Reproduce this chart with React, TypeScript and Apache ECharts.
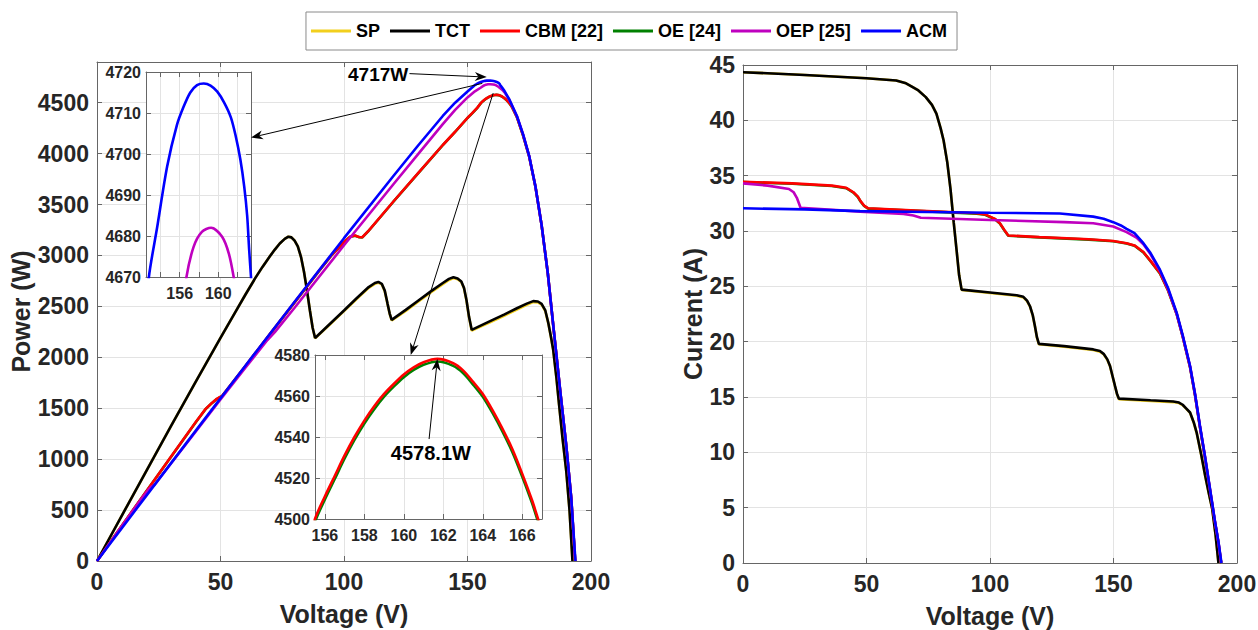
import React, { useEffect, useRef } from 'react';
import * as echarts from 'echarts';

// ---------- names / colours ----------
const seriesNames = ['SP', 'TCT', 'CBM [22]', 'OE [24]', 'OEP [25]', 'ACM'];
const seriesColors = ['#f2cf1d', '#000000', '#ff0000', '#008000', '#bf00bf', '#0000ff'];
const drawOrder = ['SP', 'TCT', 'OE [24]', 'CBM [22]', 'OEP [25]', 'ACM'];

// ---------- P-V data (Voltage V, Power W) ----------
const tctPV = [
  [0, 0], [10, 443], [20, 886], [30, 1326], [40, 1762], [50, 2190], [56, 2444], [60, 2612], [64, 2775], [67, 2888],
  [70, 2992], [72, 3058], [74, 3118], [76, 3163], [77.5, 3185], [78.7, 3178], [80, 3145], [81.3, 3090], [82.6, 2985],
  [83.8, 2840], [85, 2660], [86.2, 2460], [87.3, 2290], [88.3, 2190],
  [95, 2345], [100, 2460], [105, 2578], [110, 2690], [112.5, 2730], [113.9, 2740], [115.3, 2722], [116.5, 2655],
  [117.6, 2530], [118.5, 2430], [119.3, 2368],
  [125, 2466], [130, 2556], [135, 2645], [140, 2730], [142.5, 2770], [144.3, 2787], [146, 2775], [147.5, 2745],
  [148.6, 2680], [149.6, 2560], [150.6, 2400], [151.7, 2270],
  [160, 2365], [165, 2422], [170, 2482], [174, 2527], [176.6, 2552], [178.5, 2548], [180, 2525], [181.5, 2460],
  [182.7, 2340], [183.8, 2200], [184.7, 2073], [186, 1800], [187.1, 1530], [188.5, 1200], [190, 880], [191.3, 500], [192.5, 0],
];
const spPV = [
  [0, 0], [10, 443], [20, 886], [30, 1326], [40, 1762], [50, 2190], [56, 2444], [60, 2612], [64, 2775], [67, 2888],
  [70, 2992], [72, 3058], [74, 3118], [76, 3163], [77.5, 3185], [78.7, 3178], [80, 3145], [81.3, 3090], [82.6, 2985],
  [83.8, 2840], [85, 2660], [86.2, 2460], [87.3, 2290], [88.3, 2188],
  [95, 2340], [100, 2454], [105, 2570], [110, 2682], [112.5, 2722], [113.9, 2733], [115.3, 2716], [116.5, 2650],
  [117.6, 2526], [118.5, 2426], [119.3, 2362],
  [125, 2456], [130, 2545], [135, 2634], [140, 2719], [142.5, 2760], [144.3, 2778], [146, 2768], [147.5, 2740],
  [148.6, 2676], [149.6, 2556], [150.6, 2396], [151.7, 2262],
  [160, 2354], [165, 2410], [170, 2470], [174, 2516], [176.6, 2542], [178.5, 2540], [180, 2518], [181.5, 2455],
  [182.7, 2336], [183.8, 2197], [184.7, 2070], [186, 1798], [187.1, 1528], [188.5, 1198], [190, 878], [191.3, 499], [192.5, 0],
];
const cbmPV = [
  [0, 0], [10, 344], [20, 686], [30, 1026], [40, 1364], [44, 1494], [46.5, 1552], [48.5, 1592], [49.5, 1606], [50.7, 1622],
  [60, 1912], [70, 2228], [80, 2540], [90, 2852], [95, 3005], [100, 3132], [102.5, 3185], [104.5, 3196], [106, 3182],
  [107.4, 3179], [110, 3245], [120, 3530], [130, 3808], [140, 4085], [145, 4215], [150, 4352], [152, 4400], [154, 4452],
  [155.5, 4500], [156, 4511], [156.5, 4521], [157, 4531], [157.5, 4540], [158, 4548], [158.5, 4555], [159, 4561],
  [159.5, 4566], [160, 4570.5], [160.5, 4574], [161, 4576.5], [161.7, 4578.1], [162.5, 4576], [163, 4572.5], [163.5, 4567],
  [164, 4561], [164.5, 4553], [165, 4544], [165.5, 4534], [166, 4522], [166.5, 4509], [166.8, 4500], [167.3, 4485],
  [168, 4460], [170, 4360], [172.5, 4180], [175, 3970], [177.5, 3678], [180, 3298], [182.5, 2828], [185, 2248],
  [187.5, 1678], [190, 1128], [192, 618], [193.6, 0],
];
const oePV = [
  [0, 0], [10, 343], [20, 685], [30, 1024], [40, 1362], [44, 1492], [46.5, 1550], [48.5, 1590], [49.5, 1604], [50.7, 1620],
  [60, 1910], [70, 2226], [80, 2538], [90, 2850], [95, 3003], [100, 3130], [102.5, 3183], [104.5, 3194], [106, 3180],
  [107.4, 3177], [110, 3243], [120, 3528], [130, 3806], [140, 4083], [145, 4213], [150, 4350], [152, 4398], [154, 4450],
  [155.5, 4498.5], [156, 4509.5], [156.5, 4519.5], [157, 4529.5], [157.5, 4538.6], [158, 4546.6], [158.5, 4553.6], [159, 4559.7],
  [159.5, 4564.7], [160, 4569.2], [160.5, 4572.7], [161, 4575.2], [161.7, 4576.8], [162.5, 4574.7], [163, 4571.2], [163.5, 4565.7],
  [164, 4559.6], [164.5, 4551.6], [165, 4542.6], [165.5, 4532.6], [166, 4520.6], [166.5, 4507.6], [166.8, 4498.6], [167.3, 4483.5],
  [168, 4458], [170, 4358], [172.5, 4178], [175, 3968], [177.5, 3676], [180, 3296], [182.5, 2826], [185, 2246],
  [187.5, 1676], [190, 1126], [192, 616], [193.6, 0],
];
const oepPV = [
  [0, 0], [10, 342], [18.6, 630], [20.5, 690], [21.8, 725], [23.3, 748], [30, 960], [40, 1272], [50, 1587], [60, 1896],
  [69, 2170], [72, 2247], [80, 2487], [100, 3100], [120, 3700], [130, 3995], [140, 4290], [145, 4430], [150, 4552],
  [153, 4612], [155.3, 4647], [156.7, 4670], [157.45, 4677.4], [158.3, 4681], [159.26, 4682], [160.4, 4679.8],
  [161.1, 4675.7], [161.6, 4670], [162.5, 4657], [164, 4628], [165, 4602], [167, 4525], [170, 4368], [172.5, 4190],
  [175, 3972], [177.5, 3678], [180, 3298], [182.5, 2828], [185, 2248], [187.5, 1678], [190, 1128], [192, 618], [193.6, 0],
];
const acmPV = [
  [0, 0], [20, 642], [40, 1280], [60, 1915], [80, 2545], [100, 3170], [120, 3780], [130, 4080], [140, 4370], [145, 4500],
  [150, 4610], [152.8, 4670], [153.65, 4682], [154.7, 4697], [155.7, 4707], [156.4, 4711.5], [157.1, 4715], [157.8, 4716.8],
  [158.5, 4717.2], [159.2, 4716.7], [159.9, 4715.2], [160.6, 4712.6], [161.3, 4709], [161.8, 4704.5], [162.3, 4698.6],
  [162.7, 4692], [163, 4685], [163.2, 4677], [163.4, 4670], [164, 4650], [165, 4615], [167, 4530], [170, 4370],
  [172.5, 4190], [175, 3975], [177.5, 3680], [180, 3300], [182.5, 2830], [185, 2250], [187.5, 1680], [190, 1130],
  [192, 620], [193.7, 0],
];

// ---------- I-V data (Voltage V, Current A) ----------
const tctIV = [
  [0, 44.35], [25, 44.1], [50, 43.8], [62, 43.6], [66, 43.35], [68, 43.1], [71, 42.7], [74, 42.1], [76.5, 41.4], [78.3, 40.6],
  [80, 39.3], [81.2, 38.2], [82.7, 36.2], [84, 33.8], [85.3, 30.8], [86.5, 28.2], [87.5, 26], [88.5, 24.7],
  [100, 24.45], [110.8, 24.2], [113.5, 24.05], [115, 23.7], [116.2, 23.2], [117.3, 22.4], [118.2, 21.4], [119, 20.4], [119.8, 19.8],
  [130, 19.6], [141.8, 19.3], [144.5, 19.15], [146, 18.9], [147.5, 18.4], [148.6, 17.8], [149.6, 16.9], [150.6, 16.0],
  [151.4, 15.3], [152.2, 14.85], [165, 14.7], [174.2, 14.6], [176.5, 14.5], [178, 14.3], [179.5, 13.95], [181, 13.6],
  [182.5, 12.7], [183.7, 11.75], [185.5, 9.8], [187.1, 7.9], [188.5, 6.4], [190, 4.85], [191.3, 2.6], [192.5, 0],
];
const spIV = [
  [0, 44.35], [25, 44.1], [50, 43.8], [62, 43.6], [66, 43.35], [68, 43.1], [71, 42.7], [74, 42.1], [76.5, 41.4], [78.3, 40.6],
  [80, 39.3], [81.2, 38.2], [82.7, 36.2], [84, 33.8], [85.3, 30.8], [86.5, 28.2], [87.5, 26], [88.5, 24.68],
  [100, 24.4], [110.8, 24.15], [113.5, 24.0], [115, 23.66], [116.2, 23.16], [117.3, 22.37], [118.2, 21.37], [119, 20.37], [119.8, 19.76],
  [130, 19.55], [141.8, 19.24], [144.5, 19.1], [146, 18.86], [147.5, 18.37], [148.6, 17.77], [149.6, 16.87], [150.6, 15.97],
  [151.4, 15.27], [152.2, 14.8], [165, 14.64], [174.2, 14.54], [176.5, 14.45], [178, 14.26], [179.5, 13.92], [181, 13.57],
  [182.5, 12.67], [183.7, 11.72], [185.5, 9.78], [187.1, 7.88], [188.5, 6.38], [190, 4.83], [191.3, 2.59], [192.5, 0],
];
const cbmIV = [
  [0, 34.45], [20, 34.3], [36, 34.1], [41.8, 33.9], [44.7, 33.5], [46.5, 33.1], [47.6, 32.7], [49, 32.3], [50.7, 32.05],
  [70, 31.85], [94.6, 31.6], [98, 31.5], [100, 31.3], [102, 31.1], [104, 30.7], [105.8, 30.1], [107.4, 29.6],
  [120, 29.45], [140, 29.25], [149.9, 29.1], [155.3, 28.9], [158.5, 28.7], [162.1, 28.1], [165, 27.3], [168.8, 26.2],
  [172, 24.7], [175.6, 22.5], [178, 20.5], [181, 17.7], [183, 15.2], [185, 12.3], [187, 9.6], [189, 6.7], [191, 3.8],
  [192.5, 1.8], [193.6, 0],
];
const oeIV = [
  [0, 34.42], [20, 34.27], [36, 34.07], [41.8, 33.87], [44.7, 33.47], [46.5, 33.07], [47.6, 32.67], [49, 32.27], [50.7, 32.02],
  [70, 31.82], [94.6, 31.57], [98, 31.47], [100, 31.27], [102, 31.07], [104, 30.67], [105.8, 30.07], [107.4, 29.57],
  [120, 29.42], [140, 29.22], [149.9, 29.07], [155.3, 28.87], [158.5, 28.67], [162.1, 28.07], [165, 27.27], [168.8, 26.17],
  [172, 24.67], [175.6, 22.47], [178, 20.47], [181, 17.67], [183, 15.17], [185, 12.27], [187, 9.57], [189, 6.67], [191, 3.77],
  [192.5, 1.78], [193.6, 0],
];
const oepIV = [
  [0, 34.3], [10, 34.1], [18.6, 33.8], [20.5, 33.5], [21.8, 33.0], [23.3, 32.1], [47.4, 31.75], [65, 31.55], [69, 31.4],
  [72, 31.2], [100, 31.0], [130, 30.8], [141.8, 30.7], [149.9, 30.4], [155.3, 29.9], [159.3, 29.4], [162.1, 28.8],
  [165, 27.9], [168.8, 26.4], [172, 24.8], [175.6, 22.5], [178, 20.5], [181, 17.75], [183, 15.25], [185, 12.35],
  [187, 9.65], [189, 6.75], [191, 3.85], [192.5, 1.85], [193.6, 0],
];
const acmIV = [
  [0, 32.05], [25, 31.95], [47.4, 31.8], [75, 31.72], [100, 31.65], [128.3, 31.58], [141.8, 31.3], [146, 31.1],
  [149.9, 30.8], [153, 30.5], [155.3, 30.2], [158.5, 29.8], [162.1, 28.9], [165, 28.0], [168.8, 26.5], [172, 24.9],
  [175.6, 22.6], [178, 20.6], [181, 17.8], [183, 15.3], [185, 12.4], [187, 9.7], [189, 6.8], [191, 3.9], [192.5, 1.9],
  [193.7, 0],
];

const pvData: Record<string, number[][]> = {
  'SP': spPV, 'TCT': tctPV, 'CBM [22]': cbmPV, 'OE [24]': oePV, 'OEP [25]': oepPV, 'ACM': acmPV,
};
const ivData: Record<string, number[][]> = {
  'SP': spIV, 'TCT': tctIV, 'CBM [22]': cbmIV, 'OE [24]': oeIV, 'OEP [25]': oepIV, 'ACM': acmIV,
};

// ---------- axis ticks ----------
const voltTicksInterval = 50;
const powerTicksInterval = 500;
const currentTicksInterval = 5;
const inset1XTicks = [154, 156, 158, 160, 162];
const inset1XLabels = [156, 160];
const inset2XTicks = [156, 158, 160, 162, 164, 166];

// ---------- annotation texts ----------
const peakLabelACM = '4717W';
const peakLabelCBM = '4578.1W';

const FONT = 'Liberation Sans, Arial, Helvetica, sans-serif';
const TXT = '#262626';
const GRIDC = '#e3e3e3';
const BOX = '#666666';

function colorOf(name: string) {
  return seriesColors[seriesNames.indexOf(name)];
}
const plain = (v: number) => String(v);

function makeAxes(g: number, xc: any, yc: any, fs: number, z: number) {
  const lbl = { color: TXT, fontSize: fs, fontWeight: 'bold', fontFamily: FONT, formatter: plain };
  const tick = { show: true, inside: true, length: 5, lineStyle: { color: BOX, width: 1 } };
  const line = { show: true, onZero: false, lineStyle: { color: BOX, width: 1 } };
  const split = { show: true, lineStyle: { color: GRIDC, width: 1 } };
  const nameStyle = { color: TXT, fontSize: 25, fontWeight: 'bold', fontFamily: FONT };
  const xb: any = {
    type: 'value', gridIndex: g, position: 'bottom', min: xc.min, max: xc.max, z,
    axisLine: line, axisTick: { ...tick }, splitLine: split,
    axisLabel: { ...lbl, margin: xc.margin ?? 9, showMaxLabel: xc.showMax ?? true, showMinLabel: true },
  };
  const xt: any = {
    type: 'value', gridIndex: g, position: 'top', min: xc.min, max: xc.max, z,
    axisLine: line, axisTick: { ...tick }, splitLine: { show: false }, axisLabel: { show: false },
  };
  if (xc.interval != null) { xb.interval = xc.interval; xt.interval = xc.interval; }
  if (xc.ticks) {
    xb.axisTick.customValues = xc.ticks; xt.axisTick.customValues = xc.ticks;
    xb.axisLabel.customValues = xc.labels || xc.ticks;
  }
  if (xc.name) {
    xb.name = xc.name; xb.nameLocation = 'middle'; xb.nameGap = xc.nameGap; xb.nameTextStyle = nameStyle;
  }
  const yl: any = {
    type: 'value', gridIndex: g, position: 'left', min: yc.min, max: yc.max, interval: yc.interval, z,
    axisLine: line, axisTick: { ...tick }, splitLine: split,
    axisLabel: { ...lbl, margin: yc.margin ?? 8, showMaxLabel: yc.showMax ?? true },
  };
  const yr: any = {
    type: 'value', gridIndex: g, position: 'right', min: yc.min, max: yc.max, interval: yc.interval, z,
    axisLine: line, axisTick: { ...tick }, splitLine: { show: false }, axisLabel: { show: false },
  };
  if (yc.name) {
    yl.name = yc.name; yl.nameLocation = 'middle'; yl.nameGap = yc.nameGap; yl.nameTextStyle = nameStyle;
  }
  return { x: [xb, xt], y: [yl, yr] };
}

function arrow(p1: number[], p2: number[], head = 12, half = 4.5) {
  const dx = p2[0] - p1[0];
  const dy = p2[1] - p1[1];
  const L = Math.hypot(dx, dy) || 1;
  const ux = dx / L, uy = dy / L;
  const nx = -uy, ny = ux;
  const bx = p2[0] - ux * head, by = p2[1] - uy * head;
  const mx = p2[0] - ux * head * 0.7, my = p2[1] - uy * head * 0.7;
  return [
    { type: 'line', silent: true, z: 50, shape: { x1: p1[0], y1: p1[1], x2: mx, y2: my }, style: { stroke: '#000', lineWidth: 1 } },
    {
      type: 'polygon', silent: true, z: 50,
      shape: { points: [[p2[0], p2[1]], [bx + nx * half, by + ny * half], [mx, my], [bx - nx * half, by - ny * half]] },
      style: { fill: '#000' },
    },
  ];
}

function textEl(text: string, p: number[], align: string, size: number) {
  return {
    type: 'text', silent: true, z: 50, x: p[0], y: p[1],
    style: {
      text, x: 0, y: 0, fill: '#000', font: `bold ${size}px ${FONT}`,
      textAlign: align, align, textVerticalAlign: 'middle', verticalAlign: 'middle',
    },
  };
}

export default function App() {
  const ref = useRef<HTMLDivElement>(null);
  useEffect(() => {
    document.body.style.margin = '0';
    if (!ref.current) return;
    const chart = echarts.init(ref.current, undefined, { renderer: 'svg' });

    const grids = [
      { left: 97, top: 62, width: 494, height: 499 },
      { left: 146, top: 72, width: 105, height: 205, show: true, backgroundColor: '#fff', borderWidth: 0, z: 5 },
      { left: 315, top: 355, width: 227, height: 164, show: true, backgroundColor: '#fff', borderWidth: 0, z: 5 },
      { left: 743, top: 65, width: 494, height: 498 },
    ].map((g) => ({ outerBoundsMode: 'none', containLabel: false, ...g }));

    const a0 = makeAxes(0,
      { min: 0, max: 200, interval: voltTicksInterval, name: 'Voltage (V)', nameGap: 40, margin: 9 },
      { min: 0, max: 4900, interval: powerTicksInterval, name: 'Power (W)', nameGap: 60, showMax: false, margin: 8 }, 23, 0);
    const a1 = makeAxes(1,
      { min: 152.5, max: 163.4, ticks: inset1XTicks, labels: inset1XLabels, margin: 8 },
      { min: 4670, max: 4720, interval: 10, margin: 5 }, 16, 6);
    const a2 = makeAxes(2,
      { min: 155.5, max: 167, ticks: inset2XTicks, margin: 8 },
      { min: 4500, max: 4580, interval: 20, margin: 5 }, 16, 6);
    const a3 = makeAxes(3,
      { min: 0, max: 200, interval: voltTicksInterval, name: 'Voltage (V)', nameGap: 40, margin: 9 },
      { min: 0, max: 45, interval: currentTicksInterval, name: 'Current (A)', nameGap: 38, margin: 8 }, 23, 0);
    const xAxis = [...a0.x, ...a1.x, ...a2.x, ...a3.x];
    const yAxis = [...a0.y, ...a1.y, ...a2.y, ...a3.y];

    const series: any[] = [];
    const mk = (name: string, data: number[][], g: number, z: number, smooth: number | boolean) => ({
      type: 'line', name, data, xAxisIndex: 2 * g, yAxisIndex: 2 * g, symbol: 'none', showSymbol: false,
      clip: true, z, smooth, color: colorOf(name),
      lineStyle: { color: colorOf(name), width: 2.6 },
      emphasis: { disabled: true }, animation: false,
    });
    drawOrder.forEach((n, i) => series.push(mk(n, pvData[n], 0, 2 + i * 0.01, false)));
    ['OEP [25]', 'ACM'].forEach((n, i) => series.push(mk(n, pvData[n], 1, 7 + i * 0.01, 0.3)));
    ['OE [24]', 'CBM [22]'].forEach((n, i) => series.push(mk(n, pvData[n], 2, 7 + i * 0.01, 0.3)));
    drawOrder.forEach((n, i) => series.push(mk(n, ivData[n], 3, 2 + i * 0.01, false)));

    chart.setOption({
      animation: false,
      backgroundColor: '#ffffff',
      textStyle: { fontFamily: FONT },
      legend: {
        data: seriesNames, top: 12, left: 'center', icon: 'rect', itemWidth: 40, itemHeight: 3, itemGap: 10,
        textStyle: { fontSize: 18, fontWeight: 'bold', fontFamily: FONT, color: '#000' },
        borderColor: '#8a8a8a', borderWidth: 1, padding: [10, 10, 10, 5], backgroundColor: '#fff',
        selectedMode: false,
      },
      grid: grids,
      xAxis,
      yAxis,
      series,
    });

    const px = (g: number, p: number[]) =>
      chart.convertToPixel({ xAxisIndex: 2 * g, yAxisIndex: 2 * g } as any, p) as number[];

    const graphics: any[] = [
      textEl(peakLabelACM, px(0, [126, 4775]), 'right', 19),
      ...arrow(px(0, [126.5, 4786]), px(0, [157.8, 4752])),
      ...arrow(px(0, [156, 4690]), px(1, [163.4, 4704])),
      ...arrow(px(0, [160.4, 4595]), px(2, [160.35, 4580])),
      textEl(peakLabelCBM, px(2, [161.37, 4532]), 'center', 20),
      ...arrow(px(2, [161.28, 4539]), px(2, [161.7, 4578.1])),
    ];
    chart.setOption({ graphic: { elements: graphics } });

    return () => chart.dispose();
  }, []);
  return <div ref={ref} style={{ width: 1258, height: 630 }} />;
}
